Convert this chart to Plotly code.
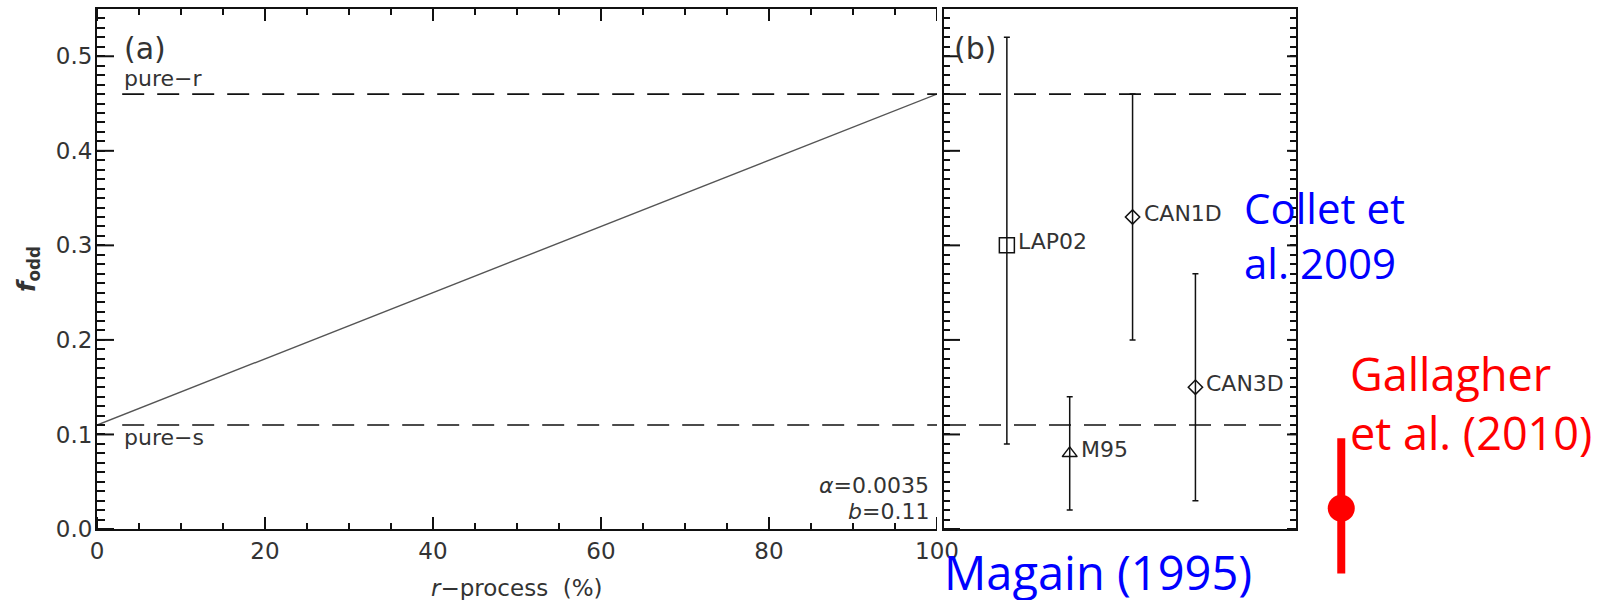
import plotly.graph_objects as go

W, H = 1616, 600

# ---------------- data ----------------
r_process = [0, 100]              # % r-process
f_odd_model = [0.11, 0.46]        # f_odd = a*r + b, endpoints
pure_r = 0.46
pure_s = 0.11
ref_x_left = [3, 100]             # extent of reference lines in panel (a)
ref_x_right = [0, 5.6]            # extent of reference lines in panel (b)

labels = ["LAP02", "M95", "CAN1D", "CAN3D"]
xpos = [1, 2, 3, 4]
f_odd_obs = [0.30, 0.08, 0.33, 0.15]
err_plus = [0.22, 0.06, 0.13, 0.12]
err_minus = [0.21, 0.06, 0.13, 0.12]

gallagher_x = [6.32]
gallagher_f = [0.022]
gallagher_plus = [0.074]
gallagher_minus = [0.069]

x_ticks = [0, 20, 40, 60, 80, 100]
y_ticks = [0.0, 0.1, 0.2, 0.3, 0.4, 0.5]
x_minor = [i * 5 for i in range(21)]
y_minor = [round(i * 0.01, 2) for i in range(56)]

# ---------------- styling / geometry ----------------
INK = "#111111"
TXT = "#333333"
FONT = "DejaVu Sans"
dash = "22px,13px"

x1_dom = [97 / W, 937 / W]
x2_dom = [944 / W, 1296 / W]
y_dom = [71 / H, 591 / H]
x1_range = [0, 100]
x2_range = [0, 5.6]
y_range = [0, 0.55]

x1_px = (x1_dom[1] - x1_dom[0]) * W
x2_px = (x2_dom[1] - x2_dom[0]) * W
y_px = (y_dom[1] - y_dom[0]) * H

# full-figure axes with the same data scale as panel (b)
ppu_x = x2_px / (x2_range[1] - x2_range[0])
x4_range = [x2_range[0] - x2_dom[0] * W / ppu_x,
            x2_range[0] + (W - x2_dom[0] * W) / ppu_x]
ppu_y = y_px / (y_range[1] - y_range[0])
y4_range = [y_range[0] - y_dom[0] * H / ppu_y,
            y_range[0] + (H - y_dom[0] * H) / ppu_y]

symbol_of = {"LAP02": ("square-open", 15), "M95": ("triangle-up-open", 13),
             "CAN1D": ("diamond-open", 11), "CAN3D": ("diamond-open", 11)}

fig = go.Figure()

# panel (a)
fig.add_trace(go.Scatter(x=r_process, y=f_odd_model, mode="lines",
                         line=dict(color="#555555", width=1.4),
                         xaxis="x", yaxis="y", showlegend=False, hoverinfo="skip"))
for lvl in (pure_r, pure_s):
    fig.add_trace(go.Scatter(x=ref_x_left, y=[lvl, lvl], mode="lines",
                             line=dict(color=INK, width=1.6, dash=dash),
                             xaxis="x", yaxis="y", showlegend=False, hoverinfo="skip"))
    fig.add_trace(go.Scatter(x=ref_x_right, y=[lvl, lvl], mode="lines",
                             line=dict(color=INK, width=1.6, dash=dash),
                             xaxis="x2", yaxis="y2", showlegend=False, hoverinfo="skip"))

# panel (b) points
for lab, xv, yv, ep, em in zip(labels, xpos, f_odd_obs, err_plus, err_minus):
    sym, sz = symbol_of[lab]
    fig.add_trace(go.Scatter(
        x=[xv], y=[yv], mode="markers", name=lab,
        marker=dict(symbol=sym, size=sz, color=INK, line=dict(color=INK, width=1.5)),
        error_y=dict(type="data", symmetric=False, array=[ep], arrayminus=[em],
                     color=INK, thickness=1.5, width=3),
        xaxis="x2", yaxis="y2", showlegend=False))

# Gallagher et al. (2010)
fig.add_trace(go.Scatter(
    x=gallagher_x, y=gallagher_f, mode="markers",
    marker=dict(symbol="circle", size=27, color="#ff0000"),
    error_y=dict(type="data", symmetric=False, array=gallagher_plus,
                 arrayminus=gallagher_minus, color="#ff0000", thickness=8, width=0),
    xaxis="x4", yaxis="y4", showlegend=False, cliponaxis=False))

tickfont = dict(family=FONT, size=23, color=TXT)

common = dict(automargin=False, showgrid=False, zeroline=False,
              linecolor=INK, linewidth=2, tickcolor=INK, tickwidth=2)

# tick labels only at the major positions
x_text = [f"{v:g}" if v in x_ticks else "" for v in x_minor]
y_text = [f"{v:.1f}" if v in y_ticks else "" for v in y_minor]

fig.update_layout(
    width=W, height=H, margin=dict(l=0, r=0, t=0, b=0, autoexpand=False),
    paper_bgcolor="white", plot_bgcolor="rgba(0,0,0,0)",
    xaxis=dict(domain=x1_dom, range=x1_range, anchor="y",
               tickmode="array", tickvals=x_minor, ticktext=x_text,
               ticks="inside", ticklen=6, showline=True, mirror="ticks",
               tickfont=tickfont, ticklabelstandoff=0, **common),
    yaxis=dict(domain=y_dom, range=y_range, anchor="x",
               tickmode="array", tickvals=y_minor, ticktext=y_text,
               ticks="inside", ticklen=8, showline=True, mirror=False,
               tickfont=tickfont, ticklabelstandoff=-2, **common),
    xaxis2=dict(domain=x2_dom, range=x2_range, anchor="y2",
                showticklabels=False, ticks="", showline=True, mirror=True,
                **common),
    yaxis2=dict(domain=y_dom, range=y_range, anchor="x2",
                tickmode="array", tickvals=y_minor, ticks="inside", ticklen=6,
                showticklabels=False, showline=True, mirror="ticks", **common),
    xaxis4=dict(domain=[0, 1], range=x4_range, anchor="y4", visible=False,
                automargin=False),
    yaxis4=dict(domain=[0, 1], range=y4_range, anchor="x4", visible=False,
                automargin=False),
)

# long (major) tick marks, placed on the axes' own scales
tick_line = dict(color=INK, width=2)
shapes = []
for v in x_ticks:
    shapes.append(dict(type="line", xref="x", yref="y domain", x0=v, x1=v,
                       y0=0, y1=12 / y_px, line=tick_line, layer="above"))
    shapes.append(dict(type="line", xref="x", yref="y domain", x0=v, x1=v,
                       y0=1, y1=1 - 12 / y_px, line=tick_line, layer="above"))
for v in x_minor:
    shapes.append(dict(type="line", xref="x", yref="y domain", x0=v, x1=v,
                       y0=1, y1=1 - 6 / y_px, line=tick_line, layer="above"))
for v in y_ticks:
    shapes.append(dict(type="line", xref="x domain", yref="y", y0=v, y1=v,
                       x0=0, x1=17 / x1_px, line=tick_line, layer="above"))
    shapes.append(dict(type="line", xref="x2 domain", yref="y2", y0=v, y1=v,
                       x0=0, x1=16 / x2_px, line=tick_line, layer="above"))
    shapes.append(dict(type="line", xref="x2 domain", yref="y2", y0=v, y1=v,
                       x0=1, x1=1 - 9 / x2_px, line=tick_line, layer="above"))
fig.update_layout(shapes=shapes)

ann = []


def txt(text, x, y, xref, yref, size=22, color=TXT, xanchor="left",
        yanchor="middle", family=FONT, **kw):
    ann.append(dict(text=text, x=x, y=y, xref=xref, yref=yref, showarrow=False,
                    xanchor=xanchor, yanchor=yanchor, align="left",
                    font=dict(family=family, size=size, color=color), **kw))


txt("(a)", 3, 0.508, "x", "y", size=30)
txt("(b)", 0.12, 0.508, "x2", "y2", size=30)
txt("pure−r", 3, 0.476, "x", "y")
txt("pure−s", 3, 0.097, "x", "y")
txt("<i>α</i>=0.0035", 99.3, 0.0465, "x", "y", xanchor="right")
txt("<i>b</i>=0.11", 99.3, 0.019, "x", "y", xanchor="right")
for lab, xv, yv in zip(labels, xpos, f_odd_obs):
    txt(lab, xv, yv, "x2", "y2", xshift=9, yshift=4)

txt("<i>r</i>−process  (%)", 0.5, 12 / H, "x domain", "paper", xanchor="center",
    size=23)
txt("<b><i>f</i></b><sub><b>odd</b></sub>", 28 / W, 0.5, "paper", "y domain",
    xanchor="center", textangle=-90, size=24)

BODY = "Open Sans"
txt("Collet et<br>al. 2009", 1242 / W, (H - 234.5) / H, "paper", "paper",
    size=42, color="#0000ff", family=BODY)
txt("Gallagher<br>et al. (2010)", 1348 / W, (H - 402.5) / H, "paper", "paper",
    size=45, color="#ff0000", family=BODY)
txt("Magain (1995)", 942 / W, (H - 571.5) / H, "paper", "paper",
    size=47, color="#0000ff", family=BODY)

fig.update_layout(annotations=ann)

fig.write_html("out.html", config=dict(displayModeBar=False),
               post_script="document.body.style.margin='0px';"
                           "document.body.style.overflow='hidden';")
